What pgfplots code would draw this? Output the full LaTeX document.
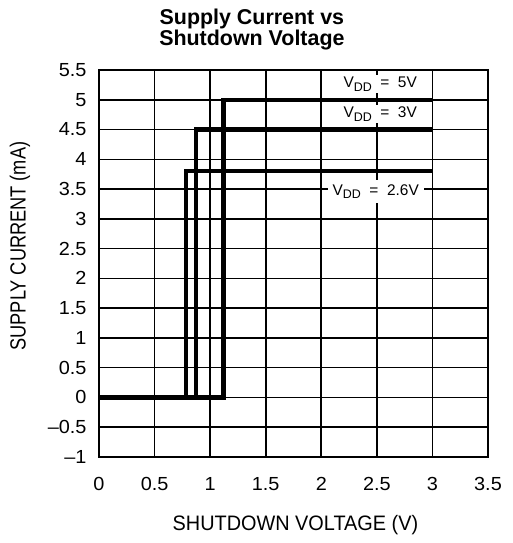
\documentclass[border=0pt]{standalone}
\usepackage{pgfplots}
\pgfplotsset{compat=1.18}
\usepackage{fontspec}
\setmainfont{Liberation Sans}
\newfontfamily\ticksfont[FakeStretch=1.05]{Liberation Sans}
\newfontfamily\xlabfont[FakeStretch=0.95]{Liberation Sans}
\newfontfamily\ylabfont[FakeStretch=0.83]{Liberation Sans}
\newcommand\vdd{V\raisebox{-0.45ex}{\fontsize{12.5}{14}\selectfont DD}}
\begin{document}
\begin{tikzpicture}
  \begin{axis}[
      scale only axis,
      width=389bp, height=387bp,
      xmin=0, xmax=3.5,
      ymin=-1, ymax=5.5,
      xtick={0,0.5,...,3.5},
      ytick={-1,-0.5,...,5.5},
      yticklabels={–1,–0.5,0,0.5,1,1.5,2,2.5,3,3.5,4,4.5,5,5.5},
      grid=major,
      major grid style={black, line width=1.6bp},
      tick align=inside,
      tick style={black, line width=1.6bp},
      axis line style={black, line width=2.4bp},
      /pgf/number format/assume math mode=true,
      tick label style={font=\ticksfont\fontsize{19}{21}\selectfont},
      xticklabel style={yshift=-17bp},
      yticklabel style={xshift=-9bp},
      xlabel={SHUTDOWN VOLTAGE (V)},
      ylabel={SUPPLY CURRENT (mA)},
      xlabel style={font=\xlabfont\fontsize{21}{23}\selectfont,
        at={([yshift=-68bp]axis description cs:0.505,0)}, anchor=center},
      ylabel style={font=\ylabfont\fontsize{22}{24}\selectfont,
        at={([xshift=-79bp]axis description cs:0,0.545)}, anchor=center},
      clip=false,
    ]
    % VDD = 2.6 V
    \addplot[black, line width=4.2bp, line join=miter] coordinates {
      (0,0) (0.78,0) (0.78,3.8) (3,3.8)
    };
    % VDD = 3 V
    \addplot[black, line width=4.2bp, line join=miter] coordinates {
      (0,0) (0.87,0) (0.87,4.5) (3,4.5)
    };
    % VDD = 5 V
    \addplot[black, line width=4.2bp, line join=miter] coordinates {
      (0,0) (1.12,0) (1.12,5.0) (3,5.0)
    };
    \node[fill=white, inner xsep=3bp, inner ysep=2bp, font=\fontsize{15.5}{17}\selectfont]
      at (axis cs:2.53,5.26) {\vdd\ \ =\ \ 5V};
    \node[fill=white, inner xsep=3bp, inner ysep=2bp, font=\fontsize{15.5}{17}\selectfont]
      at (axis cs:2.53,4.76) {\vdd\ \ =\ \ 3V};
    \node[fill=white, inner xsep=5bp, inner ysep=4bp, font=\fontsize{15.5}{17}\selectfont]
      at (axis cs:2.49,3.46) {\vdd\ \ =\ \ 2.6V};
    \node[align=center, font=\bfseries\fontsize{21.5}{20.5}\selectfont]
      at (rel axis cs:0.393,1.105) {Supply Current vs\\Shutdown Voltage};
    % page frame with the reference's margins
    \path ([xshift=-99bp, yshift=-86bp]rel axis cs:0,0)
      rectangle ([xshift=25bp, yshift=70bp]rel axis cs:1,1);
  \end{axis}
\end{tikzpicture}
\end{document}
